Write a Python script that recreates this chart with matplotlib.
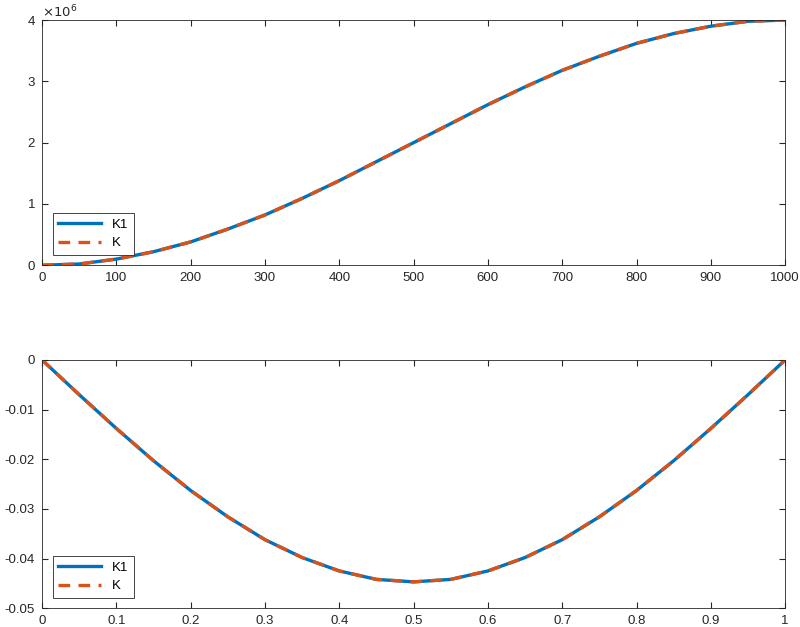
import matplotlib
matplotlib.use("Agg")
import matplotlib.pyplot as plt

x1 = [0,50,100,150,200,250,300,350,400,450,500,550,600,650,700,750,800,850,900,950,1000]
k1_top = [0,0.02,0.1,0.22,0.38,0.59,0.82,1.09,1.38,1.69,2.0,2.31,2.62,2.91,3.18,3.41,3.62,3.78,3.90,3.98,4.0]
x2 = [0,0.05,0.1,0.15,0.2,0.25,0.3,0.35,0.4,0.45,0.5,0.55,0.6,0.65,0.7,0.75,0.8,0.85,0.9,0.95,1.0]
k1_bot = [0,-.0070,-.0138,-.0203,-.0263,-.0316,-.0362,-.0398,-.0425,-.0442,-.0447,
          -.0442,-.0425,-.0398,-.0362,-.0316,-.0263,-.0203,-.0138,-.0070,0]

plt.rcParams['font.family'] = 'Liberation Sans'
plt.rcParams['font.size'] = 9.5
c = '#262626'
fig = plt.figure(figsize=(8, 6.27), dpi=100)
ax1 = fig.add_axes([0.0525, 0.577, 0.929, 0.391])
ax2 = fig.add_axes([0.0525, 0.030, 0.929, 0.396])

for ax, x, y in [(ax1, x1, [v*1e6 for v in k1_top]), (ax2, x2, k1_bot)]:
    ax.plot(x, y, color='#0072BD', lw=2.4, label='K1', solid_joinstyle='round')
    ax.plot(x, y, color='#D95319', lw=2.4, ls=(0, (3.5, 2.5)), label='K')
    ax.tick_params(direction='in', colors=c, top=True, right=True, length=4, pad=5)
    for s in ax.spines.values():
        s.set_color(c); s.set_linewidth(0.6)
    leg = ax.legend(loc='lower left', fancybox=False, edgecolor=c, framealpha=1,
                    handlelength=3.3, borderaxespad=0.8)
    leg.get_frame().set_linewidth(0.6)

ax1.set_xlim(0, 1000); ax1.set_ylim(0, 4e6)
ax1.set_xticks(range(0, 1001, 100))
ax1.set_yticks([0, 1e6, 2e6, 3e6, 4e6])
ax1.set_yticklabels(['0', '1', '2', '3', '4'])
ax1.text(0, 1.01, r'$\times 10^6$', transform=ax1.transAxes, color=c, fontsize=9.5)

ax2.set_xlim(0, 1); ax2.set_ylim(-0.05, 0)
ax2.set_xticks([i/10 for i in range(11)])
ax2.set_xticklabels(['0'] + [f'{i/10:g}' for i in range(1, 10)] + ['1'])
ax2.set_yticks([-0.05, -0.04, -0.03, -0.02, -0.01, 0])
ax2.set_yticklabels(['-0.05', '-0.04', '-0.03', '-0.02', '-0.01', '0'])

fig.savefig('out.png')
